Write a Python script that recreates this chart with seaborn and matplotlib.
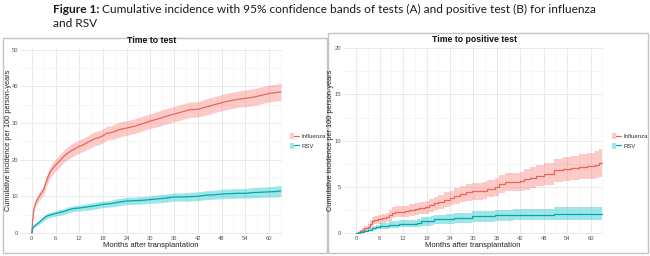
import numpy as np
import pandas as pd
import matplotlib
matplotlib.use("Agg")
import matplotlib.pyplot as plt
import seaborn as sns
from matplotlib.patches import Patch, Rectangle
from matplotlib.lines import Line2D
from matplotlib.legend_handler import HandlerTuple

# ---------------- data ----------------
series_names = ["Influenza", "RSV"]
panel_titles = ["Time to test", "Time to positive test"]
x_label = "Months after transplantation"
y_label = "Cumulative incidence per 100 person-years"
x_ticks = [0, 6, 12, 18, 24, 30, 36, 42, 48, 54, 60]

# Panel A: time to test
a_flu_month = [0, 0.2, 0.5, 1, 1.5, 2, 2.5, 3, 3.5, 4, 4.5, 5, 6, 7, 8, 9, 10, 11, 12, 13, 14,
               15, 16, 17, 18, 19, 20, 21, 22, 23, 24, 26, 28, 30, 32, 34, 36, 38, 40, 42,
               44, 46, 48, 50, 52, 54, 56, 58, 60, 62, 63]
a_flu_value = [0, 3.5, 6.5, 8.3, 9.3, 10.2, 11.0, 11.8, 13.5, 15.0, 16.3, 17.2, 18.5, 19.6,
               20.8, 21.7, 22.4, 23.0, 23.6, 24.0, 24.6, 25.2, 25.7, 26.0, 26.5, 27.2, 27.3,
               27.7, 28.1, 28.4, 28.6, 29.1, 29.8, 30.5, 31.1, 31.8, 32.4, 33.0, 33.6, 33.7,
               34.3, 34.9, 35.5, 36.0, 36.4, 36.7, 37.0, 37.5, 38.0, 38.3, 38.5]
a_flu_half = [0, 0.5, 0.8, 1.0, 1.1, 1.2, 1.2, 1.3, 1.4, 1.5, 1.5, 1.6, 1.6, 1.7, 1.7, 1.7,
              1.8, 1.8, 1.8, 1.8, 1.8, 1.9, 1.9, 1.9, 1.9, 1.9, 1.9, 2.0, 2.0, 2.0, 2.0, 2.0,
              2.0, 2.0, 2.1, 2.1, 2.1, 2.1, 2.1, 2.1, 2.2, 2.2, 2.2, 2.2, 2.2, 2.3, 2.3, 2.3,
              2.3, 2.3, 2.4]

a_rsv_month = [0, 0.2, 0.5, 1, 1.5, 2, 2.5, 3, 3.5, 4, 5, 6, 7, 8, 9, 10, 11, 12, 14, 16, 18,
               20, 22, 24, 26, 28, 30, 32, 34, 36, 38, 40, 42, 44, 46, 48, 50, 52, 54, 56, 58,
               60, 62, 63]
a_rsv_value = [0, 1.2, 1.8, 2.2, 2.6, 3.0, 3.5, 4.0, 4.4, 4.7, 5.0, 5.3, 5.6, 5.8, 6.2, 6.5,
               6.7, 6.8, 7.1, 7.4, 7.8, 8.0, 8.4, 8.7, 8.8, 8.9, 9.1, 9.3, 9.5, 9.8, 9.8, 9.9,
               10.0, 10.3, 10.4, 10.6, 10.7, 10.8, 10.8, 11.0, 11.1, 11.2, 11.3, 11.5]
a_rsv_half = [0, 0.3, 0.4, 0.5, 0.5, 0.6, 0.6, 0.6, 0.7, 0.7, 0.7, 0.7, 0.8, 0.8, 0.8, 0.8,
              0.8, 0.8, 0.9, 0.9, 0.9, 0.9, 1.0, 1.0, 1.0, 1.0, 1.0, 1.1, 1.1, 1.1, 1.1, 1.2,
              1.2, 1.2, 1.2, 1.3, 1.3, 1.3, 1.3, 1.4, 1.4, 1.4, 1.5, 1.5]

# Panel B: time to positive test (step curves)
b_flu_month = [0, 0.5, 1, 1.5, 2, 3, 3.6, 4, 4.5, 5.5, 6.5, 7.5, 8.5, 9.2, 10, 12.5, 13.5,
               15, 16, 17.5, 18.5, 20, 21, 22.5, 24, 25, 26.5, 28, 29.5, 32.5, 33.5, 35.5,
               36.5, 38, 42, 43, 44.5, 46, 48, 50.5, 53, 55, 57, 59, 61, 62, 63]
b_flu_value = [0, 0.1, 0.2, 0.35, 0.5, 0.7, 1.0, 1.3, 1.4, 1.5, 1.6, 1.7, 1.9, 2.2, 2.3,
               2.35, 2.5, 2.6, 2.7, 2.8, 3.0, 3.2, 3.4, 3.6, 3.8, 4.0, 4.2, 4.4, 4.5, 4.6,
               4.8, 5.0, 5.3, 5.5, 5.6, 5.8, 6.0, 6.2, 6.4, 6.8, 6.9, 7.0, 7.2, 7.3, 7.4,
               7.6, 7.6]
b_flu_half = [0, 0.1, 0.15, 0.2, 0.25, 0.3, 0.4, 0.45, 0.45, 0.5, 0.5, 0.5, 0.55, 0.6, 0.6,
              0.6, 0.65, 0.65, 0.65, 0.7, 0.7, 0.75, 0.75, 0.8, 0.8, 0.85, 0.85, 0.9, 0.9,
              0.9, 0.95, 0.95, 1.0, 1.0, 1.05, 1.1, 1.1, 1.15, 1.2, 1.25, 1.3, 1.3, 1.35,
              1.4, 1.45, 1.5, 1.5]

b_rsv_month = [0, 1, 2, 3, 4, 5, 6, 7, 8.5, 11, 15.5, 16.5, 19, 20, 23, 25, 29.5, 35.5, 40,
               50.5, 63]
b_rsv_value = [0, 0.1, 0.2, 0.35, 0.5, 0.65, 0.75, 0.8, 0.9, 1.0, 1.1, 1.25, 1.35, 1.5,
               1.55, 1.6, 1.8, 1.9, 2.0, 2.1, 2.1]
b_rsv_half = [0, 0.08, 0.12, 0.18, 0.22, 0.26, 0.3, 0.32, 0.35, 0.38, 0.42, 0.45, 0.47,
              0.5, 0.52, 0.53, 0.56, 0.6, 0.62, 0.68, 0.7]

colors = {"Influenza": "#F8766D", "RSV": "#00BFC4"}
line_colors = {"Influenza": "#E8665E", "RSV": "#00A9AD"}


def make_df(parts):
    frames = []
    for name, m, v, h in parts:
        v = np.asarray(v, float)
        h = np.asarray(h, float)
        frames.append(pd.DataFrame({"month": m, "value": v, "lo": np.clip(v - h, 0, None),
                                    "hi": v + h, "series": name}))
    return pd.concat(frames, ignore_index=True)


df_a = make_df([("Influenza", a_flu_month, a_flu_value, a_flu_half),
                ("RSV", a_rsv_month, a_rsv_value, a_rsv_half)])
df_b = make_df([("Influenza", b_flu_month, b_flu_value, b_flu_half),
                ("RSV", b_rsv_month, b_rsv_value, b_rsv_half)])

# ---------------- figure ----------------
sns.set_theme(style="white")
plt.rcParams["font.family"] = ["Liberation Sans", "DejaVu Sans"]

fig = plt.figure(figsize=(6.5, 2.56), dpi=100)
W, H = 650, 256


def px_axes(x0, y0, x1, y1):
    return fig.add_axes([x0 / W, 1 - y1 / H, (x1 - x0) / W, (y1 - y0) / H])


# panel borders
for (x0, y0, x1, y1) in [(3, 38, 326.5, 253), (327.5, 33, 648, 253)]:
    fig.patches.append(Rectangle((x0 / W, 1 - y1 / H), (x1 - x0) / W, (y1 - y0) / H,
                                 transform=fig.transFigure, fill=False,
                                 edgecolor="#c4c4c4", linewidth=1.0))

# figure caption
cap_font = ["Lato", "DejaVu Sans"]
fig.text(53 / W, 1 - 9.5 / H, "Figure 1:", fontsize=8.6, fontweight="bold",
         family=cap_font, va="center", ha="left", color="#1a1a1a")
fig.text(102 / W, 1 - 9.5 / H,
         "Cumulative incidence with 95% confidence bands of tests (A) and positive test (B) for influenza",
         fontsize=8.6, family=cap_font, va="center", ha="left", color="#1a1a1a")
fig.text(53 / W, 1 - 23.5 / H, "and RSV", fontsize=8.6, family=cap_font,
         va="center", ha="left", color="#1a1a1a")

ax_a = px_axes(20, 47.7, 282, 233.5)
ax_b = px_axes(343, 46.7, 602.7, 233.5)

panels = [
    (ax_a, df_a, (-3, 63.3), (-0.15, 50.5), [0, 10, 20, 30, 40, 50], None, 152, 8.5, 290),
    (ax_b, df_b, (-3.4, 63.07), (-0.05, 20.17), [0, 5, 10, 15, 20], "steps-post", 474, 331, 612),
]

for i, (ax, df, xl, yl, yt, ds, tx, ylx, legx) in enumerate(panels):
    for name in series_names:
        d = df[df["series"] == name]
        ax.fill_between(d["month"], d["lo"], d["hi"], color=colors[name], alpha=0.38,
                        linewidth=0, step=("post" if ds else None), zorder=2)
    kw = {"drawstyle": ds} if ds else {}
    sns.lineplot(data=df, x="month", y="value", hue="series", palette=line_colors,
                 estimator=None, sort=True, linewidth=0.9, ax=ax, legend=False, zorder=3, **kw)
    ax.set_xlim(*xl)
    ax.set_ylim(*yl)
    ax.set_xticks(x_ticks)
    ax.set_yticks(yt)
    ax.set_xticks([t + 3 for t in x_ticks], minor=True)
    ax.set_yticks([t + (yt[1] - yt[0]) / 2 for t in yt[:-1]], minor=True)
    ax.grid(True, which="major", color="#e6e6e6", linewidth=0.6)
    ax.grid(True, which="minor", color="#f0f0f0", linewidth=0.4)
    ax.set_axisbelow(True)
    for s in ax.spines.values():
        s.set_visible(False)
    ax.tick_params(axis="both", which="both", length=0, labelsize=4.2, colors="#555555", pad=1.5)
    ax.set_xlabel(x_label, fontsize=5.5, color="#222222", labelpad=1.2)
    ax.set_ylabel("")
    fig.text(ylx / W, 1 - 140 / H, y_label, rotation=90, fontsize=5.3, color="#222222",
             va="center", ha="center")
    fig.text(tx / W, 1 - 40.5 / H if i == 0 else 1 - 39.5 / H, panel_titles[i],
             fontsize=6.3, fontweight="bold", ha="center", va="center", color="#111111")

    handles = [(Patch(facecolor=colors[n], alpha=0.38, edgecolor="none"),
                Line2D([], [], color=line_colors[n], linewidth=0.9)) for n in series_names]
    leg = fig.legend(handles, series_names, handler_map={tuple: HandlerTuple(ndivide=None, pad=0)},
                     loc="center left", bbox_to_anchor=(legx / W, 1 - 141 / H), frameon=False,
                     fontsize=4.3, handlelength=1.5, handleheight=1.2, labelspacing=0.55,
                     handletextpad=0.5, borderaxespad=0, borderpad=0)
    for t in leg.get_texts():
        t.set_color("#333333")

fig.savefig("out.png", dpi=100)
